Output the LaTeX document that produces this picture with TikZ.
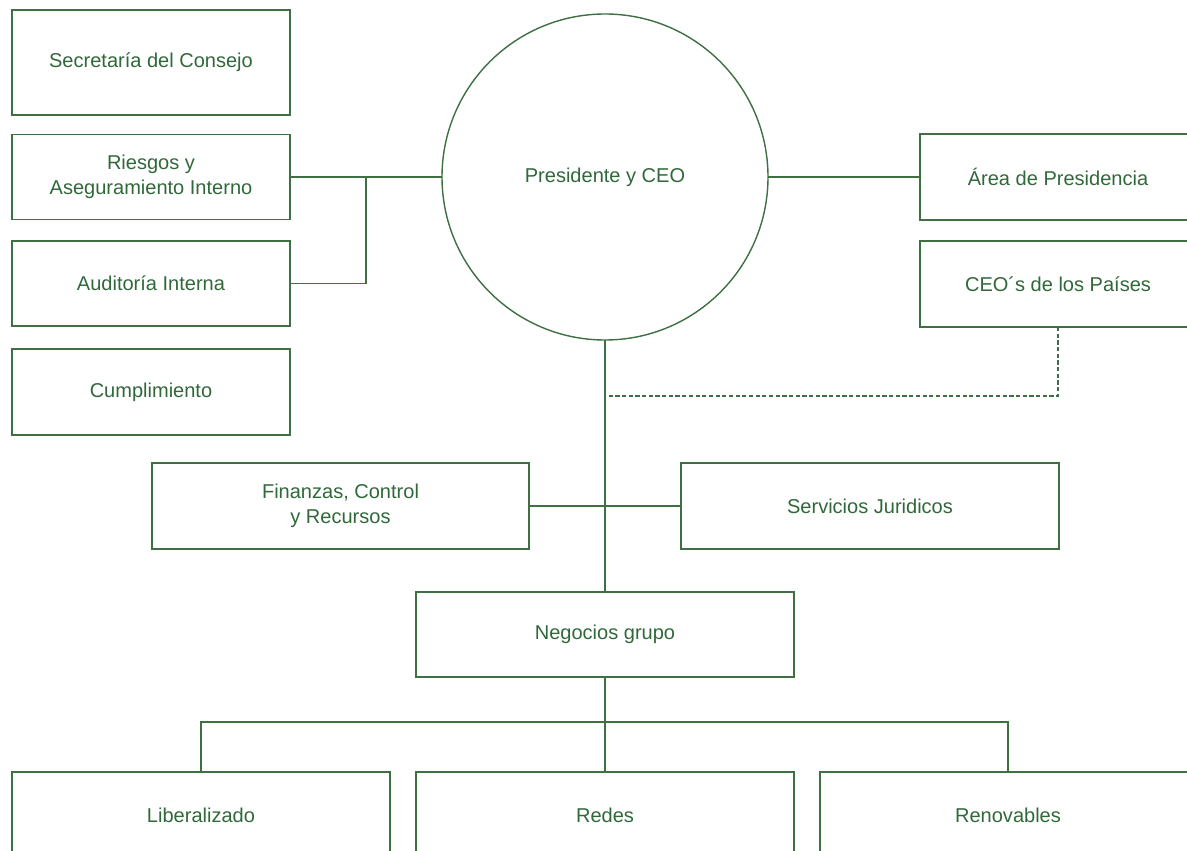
\documentclass[tikz,border=0pt]{standalone}
\usepackage{fontspec}
\setmainfont{Liberation Sans}
\definecolor{orgline}{RGB}{62,112,68}
\definecolor{orgtext}{RGB}{48,104,58}
\begin{document}
\begin{tikzpicture}[x=0.02cm, y=-0.02cm, line width=0.8pt,
    every node/.style={font=\fontsize{11.4}{14.2}\selectfont, text=orgtext, align=center},
    box/.style 2 args={draw=orgline, inner sep=0pt, outer sep=0pt,
      minimum width=#1*0.02cm, minimum height=#2*0.02cm},
    link/.style={draw=orgline},
    dotlink/.style={draw=orgline, dash pattern=on 2.4pt off 1.4pt}]
  \useasboundingbox (0,0) rectangle (1187,851);
  \clip (0,0) rectangle (1187,851);
  % left column
  \node[box={278}{105}] (secr)  at (151,62.5) {Secretaría del Consejo};
  \node[box={278}{85}]  (ries)  at (151,177)  {Riesgos y\\Aseguramiento Interno};
  \node[box={278}{85}]  (audi)  at (151,283.5) {Auditoría Interna};
  \node[box={278}{86}]  (cump)  at (151,392)  {Cumplimiento};
  % top
  \node[draw=orgline, circle, inner sep=0pt, outer sep=0pt,
        minimum size=326*0.02cm] (ceo) at (605,177) {Presidente y CEO};
  \node[box={276}{86}]  (area)  at (1058,177) {Área de Presidencia};
  \node[box={276}{86}]  (paises) at (1058,284) {CEO´s de los Países};
  % middle
  \node[box={377}{86}]  (fin)   at (340.5,506) {Finanzas, Control\\y Recursos};
  \node[box={378}{86}]  (serv)  at (870,506)  {Servicios Juridicos};
  \node[box={378}{85}]  (neg)   at (605,634.5) {Negocios grupo};
  % bottom row
  \node[box={378}{86}]  (lib)   at (201,815)  {Liberalizado};
  \node[box={378}{86}]  (redes) at (605,815)  {Redes};
  \node[box={376}{86}]  (renov) at (1008,815) {Renovables};
  \coordinate (jr) at (366,177);
  \coordinate (dj) at (605,396);
  \coordinate (bj) at (605,722);
  \draw[link] (ries.east) -- (ceo.west)
              (audi.east) -| (jr)
              (ceo.east) -- (area.west)
              (ceo.south) -- (neg.north)
              (fin.east) -- (serv.west)
              (neg.south) -- (bj)
              (lib.north) |- (bj) -| (renov.north)
              (bj) -- (redes.north);
  \draw[dotlink] (paises.south) |- (dj);
\end{tikzpicture}
\end{document}
